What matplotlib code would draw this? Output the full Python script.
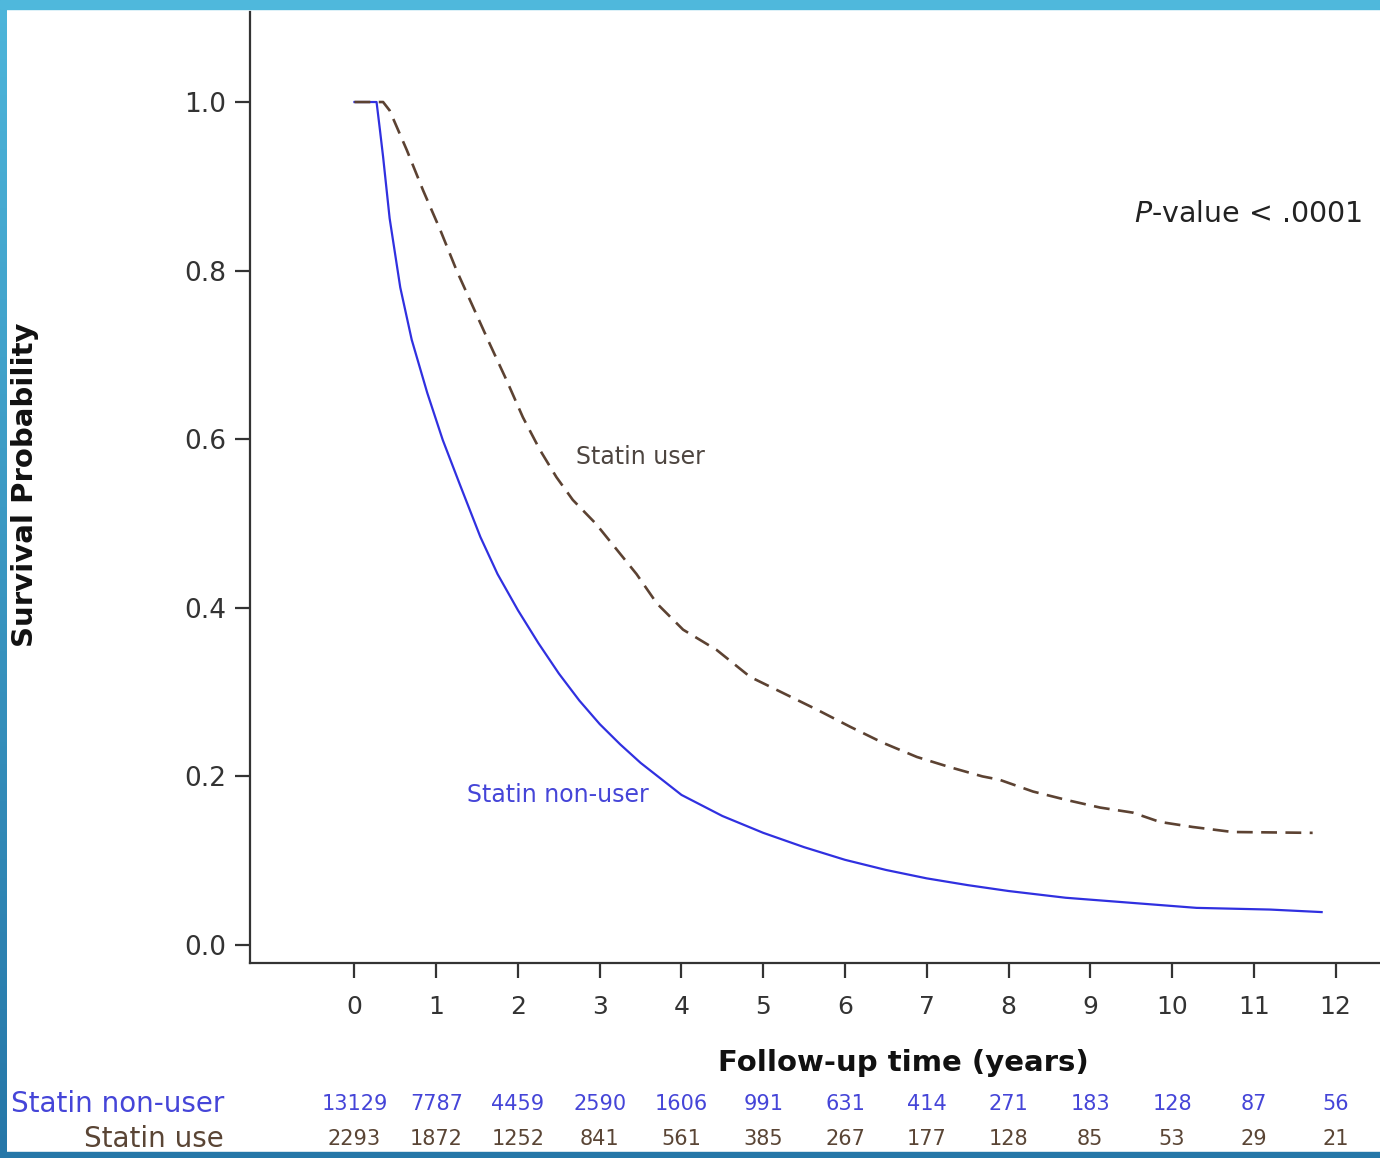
import numpy as np
import matplotlib
matplotlib.use("Agg")
import matplotlib.pyplot as plt
from matplotlib.patches import Rectangle
from matplotlib.colors import LinearSegmentedColormap

# ---------------- data ----------------
user_t = [0.0, 0.35, 0.43, 0.64, 0.84, 1.05, 1.25, 1.45, 1.65, 1.86, 2.06, 2.27, 2.47,
          2.67, 2.95, 3.20, 3.45, 3.70, 4.02, 4.43, 4.84, 5.24, 5.66, 6.06, 6.46, 6.88,
          7.28, 7.68, 7.89, 8.30, 8.71, 9.12, 9.52, 9.85, 10.25, 10.74, 11.72]
user_s = [1.0, 1.0, 0.990, 0.943, 0.895, 0.848, 0.800, 0.757, 0.714, 0.670, 0.626, 0.587, 0.555,
          0.528, 0.500, 0.470, 0.440, 0.405, 0.374, 0.350, 0.318, 0.299, 0.279, 0.259, 0.240, 0.223,
          0.211, 0.200, 0.196, 0.182, 0.172, 0.163, 0.157, 0.146, 0.140, 0.134, 0.133]

nonuser_t = [0.0, 0.27, 0.31, 0.35, 0.43, 0.56, 0.70, 0.89, 1.08, 1.29, 1.54, 1.75, 2.0,
             2.25, 2.5, 2.75, 3.0, 3.25, 3.5, 3.75, 4.0, 4.5, 5.0, 5.5, 6.0, 6.5,
             7.0, 7.5, 8.0, 8.7, 9.5, 10.3, 11.2, 11.83]
nonuser_s = [1.0, 1.0, 0.968, 0.935, 0.862, 0.780, 0.718, 0.655, 0.599, 0.546, 0.484, 0.440, 0.397,
             0.358, 0.322, 0.290, 0.262, 0.238, 0.216, 0.197, 0.178, 0.153, 0.133, 0.116, 0.101, 0.089,
             0.079, 0.071, 0.064, 0.056, 0.050, 0.044, 0.042, 0.039]

years = list(range(13))
risk_nonuser = [13129, 7787, 4459, 2590, 1606, 991, 631, 414, 271, 183, 128, 87, 56]
risk_user = [2293, 1872, 1252, 841, 561, 385, 267, 177, 128, 85, 53, 29, 21]
yticks = [0.0, 0.2, 0.4, 0.6, 0.8, 1.0]

BLUE = "#3030e0"
BLUE_TXT = "#4545d8"
BROWN = "#5c4232"
BROWN_TXT = "#5a4535"
DARK = "#333333"

W, H = 1380, 1158
fig = plt.figure(figsize=(W / 100, H / 100), dpi=100)
fig.patch.set_facecolor("white")

ax = fig.add_axes([250 / W, 1 - 963 / H, 1130 / W, (963 - 12) / H])
ax.set_xlim(-1.278, 12.544)
ax.set_ylim(-0.0214, 1.1068)

ax.plot(nonuser_t, nonuser_s, color=BLUE, lw=1.6, solid_joinstyle="round")
ax.plot(user_t, user_s, color=BROWN, lw=1.9, linestyle=(0, (6.0, 3.2)))

for s in ["top", "right"]:
    ax.spines[s].set_visible(False)
for s in ["left", "bottom"]:
    ax.spines[s].set_color(DARK)
    ax.spines[s].set_linewidth(1.6)

ax.set_xticks(years)
ax.set_xticklabels([str(y) for y in years], fontsize=18, color=DARK, family="DejaVu Sans")
ax.set_yticks(yticks)
ax.set_yticklabels([f"{v:.1f}" for v in yticks], fontsize=19, color=DARK, family="DejaVu Sans")
ax.tick_params(axis="both", direction="out", length=11, width=1.6, color=DARK)
ax.tick_params(axis="x", pad=12)
ax.tick_params(axis="y", pad=6)

# annotations
ax.text((576 - 354.5) / 81.75, (945 - 457) / 843, "Statin user", fontsize=17,
        color="#4d4540", ha="left", va="center", family="DejaVu Sans")
ax.text((467 - 354.5) / 81.75, (945 - 795) / 843, "Statin non-user", fontsize=17,
        color=BLUE_TXT, ha="left", va="center", family="DejaVu Sans")

fig.text(1362 / W, 1 - 214 / H, r"$\it{P}$-value < .0001", fontsize=20.5, color="#222222",
         ha="right", va="center", family="DejaVu Sans")

# axis titles
fig.text(25 / W, 1 - 485 / H, "Survival Probability", rotation=90, fontsize=21,
         fontweight="bold", color="#111111", ha="center", va="center", family="DejaVu Sans")
fig.text(903 / W, 1 - 1063 / H, "Follow-up time (years)", fontsize=21,
         fontweight="bold", color="#111111", ha="center", va="center", family="DejaVu Sans")

# number-at-risk table
trans = matplotlib.transforms.blended_transform_factory(ax.transData, fig.transFigure)
for yr, a, b in zip(years, risk_nonuser, risk_user):
    ax.text(yr, 1 - 1104 / H, str(a), transform=trans, fontsize=15, color=BLUE_TXT,
            ha="center", va="center", family="DejaVu Sans", clip_on=False)
    ax.text(yr, 1 - 1139 / H, str(b), transform=trans, fontsize=15, color=BROWN_TXT,
            ha="center", va="center", family="DejaVu Sans", clip_on=False)
fig.text(224 / W, 1 - 1104 / H, "Statin non-user", fontsize=20, color=BLUE_TXT,
         ha="right", va="center", family="DejaVu Sans")
fig.text(224 / W, 1 - 1139 / H, "Statin use", fontsize=20, color=BROWN_TXT,
         ha="right", va="center", family="DejaVu Sans")

# blue frame
fig.patches.append(Rectangle((0, 1 - 9 / H), 1, 9 / H, transform=fig.transFigure,
                             color="#4fb8dc", zorder=5))
fig.patches.append(Rectangle((0, 0), 1, 6 / H, transform=fig.transFigure,
                             color="#2677a8", zorder=5))
lax = fig.add_axes([0, 0, 7 / W, 1])
cmap = LinearSegmentedColormap.from_list("edge", ["#2677a8", "#4db5da"])
lax.imshow(np.linspace(0, 1, 256).reshape(-1, 1), aspect="auto", cmap=cmap,
           origin="lower", extent=[0, 1, 0, 1])
lax.set_axis_off()

fig.savefig("out.png", dpi=100)
